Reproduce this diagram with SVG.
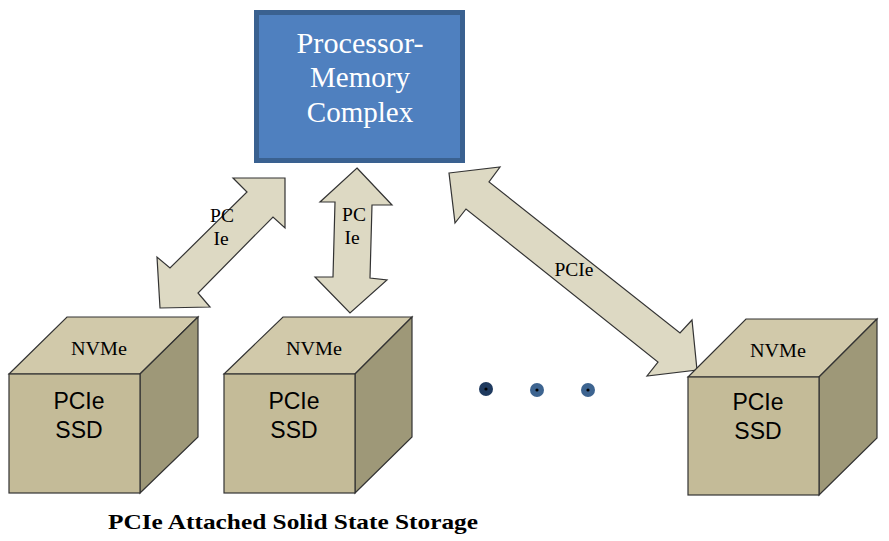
<svg xmlns="http://www.w3.org/2000/svg" width="889" height="541" viewBox="0 0 889 541">
<style>
.serif{font-family:"Liberation Serif","Times New Roman",serif}
.sans{font-family:"Liberation Sans",Arial,sans-serif}
.arrow{fill:#ddd9c3;stroke:#333;stroke-width:1.2;stroke-linejoin:miter}
.front{fill:#c4bb98;stroke:#333;stroke-width:1.2}
.top{fill:#d1c9aa;stroke:#333;stroke-width:1.2}
.side{fill:#9e9878;stroke:#333;stroke-width:1.2}
.lbl{font-size:19.5px;fill:#000}
.nv{font-size:19px;fill:#000}
.big{font-size:23px;fill:#000}
</style>
<rect width="889" height="541" fill="#fff"/>
<g id="processor">
<rect x="256.5" y="12.5" width="206" height="148" fill="#4f80bf" stroke="#3a6190" stroke-width="5"/>
<text class="serif" font-size="29" fill="#fff" text-anchor="middle"><tspan x="360" y="53" textLength="127" lengthAdjust="spacingAndGlyphs">Processor-</tspan><tspan x="360" y="87">Memory</tspan><tspan x="360" y="122">Complex</tspan></text>
</g>
<g id="connectors">
<g id="link1">
<polygon class="arrow" points="285,178 233,178 247,192 170,268 157,257 160,308 210,307 198,293 273,217 285,228"/>
<text class="serif lbl" text-anchor="middle"><tspan x="222" y="222">PC</tspan><tspan x="221" y="245">Ie</tspan></text>
</g>
<g id="link2">
<polygon class="arrow" points="357,168 392,205 372,205 370,278 387,280 350,313 315,277 333,277 335,202 320,202"/>
<text class="serif lbl" text-anchor="middle"><tspan x="354" y="221">PC</tspan><tspan x="352" y="244">Ie</tspan></text>
</g>
<g id="link3">
<polygon class="arrow" points="449,173 500,167 489,182 680,333 692,320 697,370 647,376 658,362 466,209 455,223"/>
<text class="serif lbl" text-anchor="middle" x="574" y="276">PCIe</text>
</g>
</g>
<g id="ssd1">
<polygon class="top" points="9,374 67,317 198,317 140,374"/>
<polygon class="side" points="140,374 198,317 198,437 140,493"/>
<rect class="front" x="9" y="374" width="131" height="119"/>
<text class="serif nv" text-anchor="middle" x="99" y="355" textLength="56" lengthAdjust="spacingAndGlyphs">NVMe</text>
<text class="sans big" text-anchor="middle"><tspan x="79" y="409">PCIe</tspan><tspan x="79" y="438">SSD</tspan></text>
</g>
<g id="ssd2">
<polygon class="top" points="224,374 283,317 412,317 355,374"/>
<polygon class="side" points="355,374 412,317 412,437 355,493"/>
<rect class="front" x="224" y="374" width="131" height="119"/>
<text class="serif nv" text-anchor="middle" x="314" y="355" textLength="56" lengthAdjust="spacingAndGlyphs">NVMe</text>
<text class="sans big" text-anchor="middle"><tspan x="294" y="409">PCIe</tspan><tspan x="294" y="438">SSD</tspan></text>
</g>
<g id="ssd3">
<polygon class="top" points="688,377 746,319 877,319 819,377"/>
<polygon class="side" points="819,377 877,319 877,438 819,495"/>
<rect class="front" x="688" y="377" width="131" height="118"/>
<text class="serif nv" text-anchor="middle" x="778" y="357" textLength="56" lengthAdjust="spacingAndGlyphs">NVMe</text>
<text class="sans big" text-anchor="middle"><tspan x="758" y="410">PCIe</tspan><tspan x="758" y="439">SSD</tspan></text>
</g>
<g id="ellipsis">
<circle cx="486" cy="389" r="7" fill="#1f3a5f"/>
<circle cx="537" cy="390" r="7" fill="#3d6490"/>
<circle cx="588" cy="390" r="7" fill="#3d6490"/>
<circle cx="486" cy="389" r="1.6" fill="#000"/>
<circle cx="537" cy="390" r="1.6" fill="#000"/>
<circle cx="588" cy="390" r="1.6" fill="#000"/>
</g>
<g id="caption">
<text class="serif" font-size="21" font-weight="bold" fill="#000" x="108" y="529" textLength="370" lengthAdjust="spacingAndGlyphs">PCIe Attached Solid State Storage</text>
</g>
</svg>
